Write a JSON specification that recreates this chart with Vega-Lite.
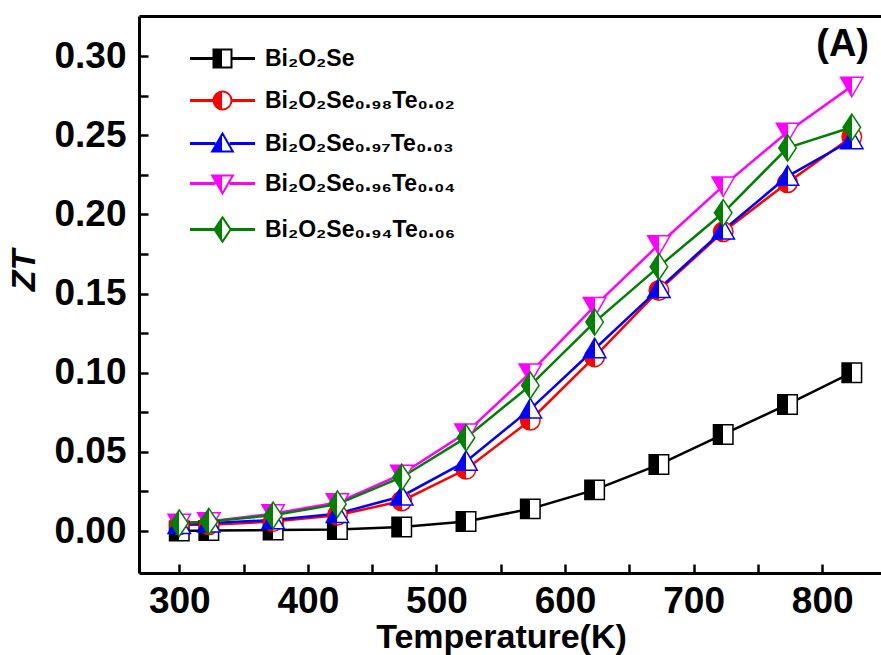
{
  "$schema": "https://vega.github.io/schema/vega-lite/v6.json",
  "width": 742,
  "height": 557,
  "autosize": "none",
  "padding": {"left": 139, "top": 16, "right": 0, "bottom": 82},
  "background": "white",
  "config": {"view": {"stroke": null}, "font": "Liberation Sans"},
  "title": {"text": "(A)", "anchor": "end", "frame": "group", "orient": "top", "offset": -78, "baseline": "alphabetic", "fontSize": 38, "fontWeight": "bold", "color": "black", "dx": -12},
  "data": {"values": [
    {"series": "Bi₂O₂Se", "T": 300, "ZT": 0.0},
    {"series": "Bi₂O₂Se", "T": 323, "ZT": 0.0003},
    {"series": "Bi₂O₂Se", "T": 373, "ZT": 0.0006},
    {"series": "Bi₂O₂Se", "T": 423, "ZT": 0.001},
    {"series": "Bi₂O₂Se", "T": 473, "ZT": 0.0025},
    {"series": "Bi₂O₂Se", "T": 523, "ZT": 0.006},
    {"series": "Bi₂O₂Se", "T": 573, "ZT": 0.014},
    {"series": "Bi₂O₂Se", "T": 623, "ZT": 0.026},
    {"series": "Bi₂O₂Se", "T": 673, "ZT": 0.042},
    {"series": "Bi₂O₂Se", "T": 723, "ZT": 0.061},
    {"series": "Bi₂O₂Se", "T": 773, "ZT": 0.080},
    {"series": "Bi₂O₂Se", "T": 823, "ZT": 0.100},
    {"series": "Bi₂O₂Se₀.₉₈Te₀.₀₂", "T": 300, "ZT": 0.004},
    {"series": "Bi₂O₂Se₀.₉₈Te₀.₀₂", "T": 323, "ZT": 0.004},
    {"series": "Bi₂O₂Se₀.₉₈Te₀.₀₂", "T": 373, "ZT": 0.006},
    {"series": "Bi₂O₂Se₀.₉₈Te₀.₀₂", "T": 423, "ZT": 0.010},
    {"series": "Bi₂O₂Se₀.₉₈Te₀.₀₂", "T": 473, "ZT": 0.019},
    {"series": "Bi₂O₂Se₀.₉₈Te₀.₀₂", "T": 523, "ZT": 0.039},
    {"series": "Bi₂O₂Se₀.₉₈Te₀.₀₂", "T": 573, "ZT": 0.070},
    {"series": "Bi₂O₂Se₀.₉₈Te₀.₀₂", "T": 623, "ZT": 0.110},
    {"series": "Bi₂O₂Se₀.₉₈Te₀.₀₂", "T": 673, "ZT": 0.152},
    {"series": "Bi₂O₂Se₀.₉₈Te₀.₀₂", "T": 723, "ZT": 0.189},
    {"series": "Bi₂O₂Se₀.₉₈Te₀.₀₂", "T": 773, "ZT": 0.220},
    {"series": "Bi₂O₂Se₀.₉₈Te₀.₀₂", "T": 823, "ZT": 0.249},
    {"series": "Bi₂O₂Se₀.₉₇Te₀.₀₃", "T": 300, "ZT": 0.004},
    {"series": "Bi₂O₂Se₀.₉₇Te₀.₀₃", "T": 323, "ZT": 0.005},
    {"series": "Bi₂O₂Se₀.₉₇Te₀.₀₃", "T": 373, "ZT": 0.007},
    {"series": "Bi₂O₂Se₀.₉₇Te₀.₀₃", "T": 423, "ZT": 0.011},
    {"series": "Bi₂O₂Se₀.₉₇Te₀.₀₃", "T": 473, "ZT": 0.022},
    {"series": "Bi₂O₂Se₀.₉₇Te₀.₀₃", "T": 523, "ZT": 0.044},
    {"series": "Bi₂O₂Se₀.₉₇Te₀.₀₃", "T": 573, "ZT": 0.077},
    {"series": "Bi₂O₂Se₀.₉₇Te₀.₀₃", "T": 623, "ZT": 0.115},
    {"series": "Bi₂O₂Se₀.₉₇Te₀.₀₃", "T": 673, "ZT": 0.153},
    {"series": "Bi₂O₂Se₀.₉₇Te₀.₀₃", "T": 723, "ZT": 0.190},
    {"series": "Bi₂O₂Se₀.₉₇Te₀.₀₃", "T": 773, "ZT": 0.224},
    {"series": "Bi₂O₂Se₀.₉₇Te₀.₀₃", "T": 823, "ZT": 0.247},
    {"series": "Bi₂O₂Se₀.₉₆Te₀.₀₄", "T": 300, "ZT": 0.005},
    {"series": "Bi₂O₂Se₀.₉₆Te₀.₀₄", "T": 323, "ZT": 0.006},
    {"series": "Bi₂O₂Se₀.₉₆Te₀.₀₄", "T": 373, "ZT": 0.011},
    {"series": "Bi₂O₂Se₀.₉₆Te₀.₀₄", "T": 423, "ZT": 0.018},
    {"series": "Bi₂O₂Se₀.₉₆Te₀.₀₄", "T": 473, "ZT": 0.036},
    {"series": "Bi₂O₂Se₀.₉₆Te₀.₀₄", "T": 523, "ZT": 0.062},
    {"series": "Bi₂O₂Se₀.₉₆Te₀.₀₄", "T": 573, "ZT": 0.100},
    {"series": "Bi₂O₂Se₀.₉₆Te₀.₀₄", "T": 623, "ZT": 0.142},
    {"series": "Bi₂O₂Se₀.₉₆Te₀.₀₄", "T": 673, "ZT": 0.181},
    {"series": "Bi₂O₂Se₀.₉₆Te₀.₀₄", "T": 723, "ZT": 0.218},
    {"series": "Bi₂O₂Se₀.₉₆Te₀.₀₄", "T": 773, "ZT": 0.252},
    {"series": "Bi₂O₂Se₀.₉₆Te₀.₀₄", "T": 823, "ZT": 0.281},
    {"series": "Bi₂O₂Se₀.₉₄Te₀.₀₆", "T": 300, "ZT": 0.005},
    {"series": "Bi₂O₂Se₀.₉₄Te₀.₀₆", "T": 323, "ZT": 0.006},
    {"series": "Bi₂O₂Se₀.₉₄Te₀.₀₆", "T": 373, "ZT": 0.010},
    {"series": "Bi₂O₂Se₀.₉₄Te₀.₀₆", "T": 423, "ZT": 0.017},
    {"series": "Bi₂O₂Se₀.₉₄Te₀.₀₆", "T": 473, "ZT": 0.034},
    {"series": "Bi₂O₂Se₀.₉₄Te₀.₀₆", "T": 523, "ZT": 0.059},
    {"series": "Bi₂O₂Se₀.₉₄Te₀.₀₆", "T": 573, "ZT": 0.092},
    {"series": "Bi₂O₂Se₀.₉₄Te₀.₀₆", "T": 623, "ZT": 0.132},
    {"series": "Bi₂O₂Se₀.₉₄Te₀.₀₆", "T": 673, "ZT": 0.167},
    {"series": "Bi₂O₂Se₀.₉₄Te₀.₀₆", "T": 723, "ZT": 0.201},
    {"series": "Bi₂O₂Se₀.₉₄Te₀.₀₆", "T": 773, "ZT": 0.242},
    {"series": "Bi₂O₂Se₀.₉₄Te₀.₀₆", "T": 823, "ZT": 0.255}
  ]},
  "encoding": {
    "y": {"field": "ZT", "type": "quantitative",
      "scale": {"domain": [-0.0265, 0.3253], "nice": false, "zero": false},
      "axis": {"orient": "left", "values": [0, 0.025, 0.05, 0.075, 0.1, 0.125, 0.15, 0.175, 0.2, 0.225, 0.25, 0.275, 0.3],
        "labelExpr": "round(datum.value*1000) % 50 === 0 ? format(datum.value, '.2f') : ''",
        "tickSize": -9, "tickWidth": 2.5, "tickColor": "black", "domainColor": "black", "domainWidth": 3,
        "labelFontSize": 37, "labelFontWeight": "bold", "labelColor": "black", "labelPadding": 22,
        "grid": false,
        "title": "ZT", "titleFontSize": 34, "titleFontWeight": "bold", "titleFontStyle": "italic", "titleColor": "black",
        "titleX": -115, "titleY": 254, "titleAlign": "center", "titleBaseline": "middle", "titleAngle": -90,
        "encode": {"ticks": {"update": {"x2": {"signal": "round(datum.value*1000) % 50 === 0 ? 12 : 7"}}}}}}
  },
  "layer": [
    {
      "encoding": {
        "x": {"field": "T", "type": "quantitative",
          "scale": {"domain": [268.7, 845.7], "nice": false, "zero": false},
          "axis": {"orient": "bottom", "values": [300, 350, 400, 450, 500, 550, 600, 650, 700, 750, 800],
            "labelExpr": "datum.value % 100 === 0 ? datum.label : ''",
            "format": "d",
            "tickSize": -9, "tickWidth": 2.5, "tickColor": "black", "domainColor": "black", "domainWidth": 3,
            "labelFontSize": 37, "labelFontWeight": "bold", "labelColor": "black", "labelPadding": 19,
            "grid": false,
            "title": "Temperature(K)", "titleFontSize": 34, "titleFontWeight": "bold", "titleColor": "black",
            "titleX": 362, "titleY": 74, "titleAlign": "center", "titleBaseline": "alphabetic",
            "encode": {"ticks": {"update": {"y2": {"signal": "datum.value % 100 === 0 ? -11 : -6"}}}}}}
      },
      "layer": [
        {
          "mark": {"type": "line", "strokeWidth": 2.5},
          "encoding": {
            "color": {"field": "series", "type": "nominal",
              "scale": {"domain": ["Bi₂O₂Se", "Bi₂O₂Se₀.₉₈Te₀.₀₂", "Bi₂O₂Se₀.₉₇Te₀.₀₃", "Bi₂O₂Se₀.₉₆Te₀.₀₄", "Bi₂O₂Se₀.₉₄Te₀.₀₆"],
                "range": ["#000000", "#ff0000", "#0000ff", "#ff00ff", "#008000"]},
              "legend": {"orient": "none", "legendX": 72, "legendY": 31, "title": null, "padding": 0,
                "rowPadding": 15, "symbolSize": 324, "labelOffset": 31, "labelFontSize": 23, "labelFontWeight": "bold",
                "labelColor": "black", "labelFont": "Liberation Sans", "labelLimit": 400, "symbolStrokeWidth": 2,
                "encode": {"symbols": {"update": {
                  "shape": {"signal": "['M-3.5,-0.06H-1V0.06H-3.5Z M1,-0.06H3.5V0.06H1Z M-1,-1H1V1H-1Z', 'M-3.5,-0.06H-1V0.06H-3.5Z M1,-0.06H3.5V0.06H1Z M-1,0A1,1 0 1,0 1,0A1,1 0 1,0 -1,0Z', 'M-3.5,-0.06H-0.9V0.06H-3.5Z M0.9,-0.06H3.5V0.06H0.9Z M0,-1.1L1.15,0.9H-1.15Z', 'M-3.5,-0.06H-0.9V0.06H-3.5Z M0.9,-0.06H3.5V0.06H0.9Z M-1.15,-0.9H1.15L0,1.1Z', 'M-3.5,-0.06H-0.9V0.06H-3.5Z M0.9,-0.06H3.5V0.06H0.9Z M0,-1.35L0.9,0L0,1.35L-0.9,0Z'][datum.index]"},
                  "fill": {"signal": "{gradient: 'linear', x1: 0, y1: 0, x2: 1, y2: 0, stops: [{offset: 0, color: scale('color', datum.value)}, {offset: 0.5, color: scale('color', datum.value)}, {offset: 0.5, color: 'white'}, {offset: 1, color: 'white'}]}"},
                  "stroke": {"signal": "scale('color', datum.value)"},
                  "strokeWidth": {"value": 2},
                  "opacity": {"value": 1}
                }}}}
            }
          }
        },
        {
          "transform": [{"filter": {"field": "series", "equal": "Bi₂O₂Se"}}],
          "mark": {"type": "point", "shape": "M-1,-1H1V1H-1Z", "size": 380, "filled": true, "opacity": 1,
            "fill": {"gradient": "linear", "x1": 0, "y1": 0, "x2": 1, "y2": 0, "stops": [{"offset": 0, "color": "#000000"}, {"offset": 0.5, "color": "#000000"}, {"offset": 0.5, "color": "white"}, {"offset": 1, "color": "white"}]},
            "stroke": "#000000", "strokeWidth": 1.5}
        },
        {
          "transform": [{"filter": {"field": "series", "equal": "Bi₂O₂Se₀.₉₈Te₀.₀₂"}}],
          "mark": {"type": "point", "shape": "M-1,0A1,1 0 1,0 1,0A1,1 0 1,0 -1,0Z", "size": 380, "filled": true, "opacity": 1,
            "fill": {"gradient": "linear", "x1": 0, "y1": 0, "x2": 1, "y2": 0, "stops": [{"offset": 0, "color": "#ff0000"}, {"offset": 0.5, "color": "#ff0000"}, {"offset": 0.5, "color": "white"}, {"offset": 1, "color": "white"}]},
            "stroke": "#ff0000", "strokeWidth": 1.5}
        },
        {
          "transform": [{"filter": {"field": "series", "equal": "Bi₂O₂Se₀.₉₇Te₀.₀₃"}}],
          "mark": {"type": "point", "shape": "M0,-1.1L1.15,0.9H-1.15Z", "size": 380, "filled": true, "opacity": 1,
            "fill": {"gradient": "linear", "x1": 0, "y1": 0, "x2": 1, "y2": 0, "stops": [{"offset": 0, "color": "#0000ff"}, {"offset": 0.5, "color": "#0000ff"}, {"offset": 0.5, "color": "white"}, {"offset": 1, "color": "white"}]},
            "stroke": "#0000ff", "strokeWidth": 1.5}
        },
        {
          "transform": [{"filter": {"field": "series", "equal": "Bi₂O₂Se₀.₉₆Te₀.₀₄"}}],
          "mark": {"type": "point", "shape": "M-1.15,-0.9H1.15L0,1.1Z", "size": 380, "filled": true, "opacity": 1,
            "fill": {"gradient": "linear", "x1": 0, "y1": 0, "x2": 1, "y2": 0, "stops": [{"offset": 0, "color": "#ff00ff"}, {"offset": 0.5, "color": "#ff00ff"}, {"offset": 0.5, "color": "white"}, {"offset": 1, "color": "white"}]},
            "stroke": "#ff00ff", "strokeWidth": 1.5}
        },
        {
          "transform": [{"filter": {"field": "series", "equal": "Bi₂O₂Se₀.₉₄Te₀.₀₆"}}],
          "mark": {"type": "point", "shape": "M0,-1.35L0.9,0L0,1.35L-0.9,0Z", "size": 380, "filled": true, "opacity": 1,
            "fill": {"gradient": "linear", "x1": 0, "y1": 0, "x2": 1, "y2": 0, "stops": [{"offset": 0, "color": "#008000"}, {"offset": 0.5, "color": "#008000"}, {"offset": 0.5, "color": "white"}, {"offset": 1, "color": "white"}]},
            "stroke": "#008000", "strokeWidth": 1.5}
        }
      ]
    },
    {
      "mark": {"type": "line", "opacity": 0},
      "encoding": {
        "x": {"field": "T", "type": "quantitative",
          "scale": {"domain": [268.7, 845.7], "nice": false, "zero": false},
          "axis": {"orient": "top", "labels": false, "ticks": false, "grid": false, "title": null, "domainColor": "black", "domainWidth": 3}},
        "detail": {"field": "series", "type": "nominal"}
      }
    }
  ]
}
